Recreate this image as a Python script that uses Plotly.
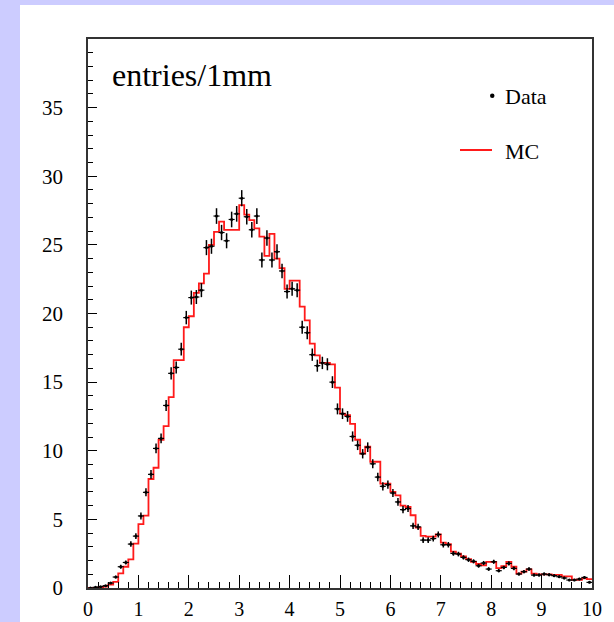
import plotly.graph_objects as go

# ---- data -------------------------------------------------------------
bin_width = 0.1
bin_edges = [round(i * bin_width, 1) for i in range(101)]
bin_centers = [round(e + bin_width / 2, 2) for e in bin_edges[:-1]]

data_values = [
    0.0, 0.05, 0.1, 0.17, 0.36, 0.8, 1.55, 1.86, 3.2, 3.78,
    5.25, 6.97, 8.28, 10.17, 10.9, 13.3, 15.64, 16.07, 17.4, 19.7,
    21.16, 21.2, 21.7, 24.8, 24.9, 27.1, 25.9, 25.3, 26.85, 27.26,
    28.4, 27.05, 26.1, 27.1, 23.9, 25.5, 23.9, 24.5, 23.1, 21.6,
    21.8, 21.7, 19.0, 18.6, 17.0, 16.2, 16.4, 16.3, 15.0, 13.05,
    12.7, 12.5, 11.04, 10.4, 9.78, 10.26, 9.05, 8.08, 7.41, 7.53,
    6.92, 6.27, 5.71, 5.79, 4.53, 4.45, 3.49, 3.49, 3.6, 3.9,
    3.15, 3.15, 2.52, 2.47, 2.23, 2.06, 1.94, 1.62, 1.82, 1.38,
    1.91, 1.26, 1.5, 1.79, 1.43, 1.02, 1.19, 1.38, 0.94, 0.94,
    1.02, 0.97, 0.9, 0.82, 0.73, 0.58, 0.58, 0.65, 0.77, 0.41,
]

data_errors = [
    0.0, 0.03, 0.04, 0.05, 0.07, 0.10, 0.14, 0.15, 0.20, 0.21,
    0.25, 0.29, 0.32, 0.35, 0.36, 0.40, 0.44, 0.44, 0.46, 0.49,
    0.51, 0.51, 0.51, 0.55, 0.55, 0.57, 0.56, 0.55, 0.57, 0.57,
    0.59, 0.57, 0.56, 0.57, 0.54, 0.56, 0.54, 0.54, 0.53, 0.51,
    0.51, 0.51, 0.48, 0.47, 0.45, 0.44, 0.45, 0.44, 0.43, 0.40,
    0.39, 0.39, 0.37, 0.35, 0.34, 0.35, 0.33, 0.31, 0.30, 0.30,
    0.29, 0.28, 0.26, 0.26, 0.23, 0.23, 0.21, 0.21, 0.21, 0.22,
    0.20, 0.20, 0.17, 0.17, 0.16, 0.16, 0.15, 0.14, 0.15, 0.13,
    0.15, 0.12, 0.13, 0.15, 0.13, 0.11, 0.12, 0.13, 0.11, 0.11,
    0.11, 0.11, 0.10, 0.10, 0.09, 0.08, 0.08, 0.09, 0.10, 0.07,
]

mc_values = [
    0.0, 0.0, 0.05, 0.1, 0.25, 0.45, 1.07, 1.55, 2.08, 3.24,
    4.65, 5.28, 7.94, 8.76, 10.8, 11.8, 13.9, 16.6, 16.6, 19.0,
    19.8, 21.5, 22.2, 22.9, 25.0, 25.95, 26.7, 26.1, 26.1, 26.1,
    27.9, 27.2, 26.8, 26.2, 25.6, 24.2, 25.8, 24.0, 23.3, 21.8,
    22.4, 22.4, 20.5, 19.5, 17.8, 16.95, 16.4, 16.4, 16.3, 14.6,
    12.7, 12.6, 11.96, 10.8, 9.8, 10.3, 9.2, 9.2, 7.6, 7.6,
    7.0, 6.75, 6.0, 5.9, 5.3, 4.4, 3.8, 3.75, 3.75, 3.9,
    3.3, 3.2, 2.65, 2.5, 2.3, 2.1, 1.9, 1.75, 1.65, 1.9,
    1.9, 1.45, 1.6, 1.9, 1.55, 1.05, 1.2, 1.35, 1.05, 1.0,
    1.0, 1.0, 0.95, 0.95, 0.85, 0.85, 0.6, 0.6, 0.7, 0.65,
]

x_tick_values = list(range(0, 11))
y_tick_values = [0, 5, 10, 15, 20, 25, 30, 35]

# ---- geometry helpers (pixel -> paper) -----------------------------------
W, H = 614, 622
L, R, T, B = 88, 22, 39, 34
PW, PH = W - L - R, H - T - B


def px(x):
    return (x - L) / PW


def py(y):
    return (H - B - y) / PH


FONT = "Liberation Serif, Times New Roman, DejaVu Serif, serif"

fig = go.Figure()

# MC histogram as a step line
fig.add_trace(go.Scatter(
    x=bin_edges,
    y=mc_values + [mc_values[-1]],
    mode="lines",
    line=dict(color="#ff1a1a", width=1.8, shape="hv"),
    name="MC",
    showlegend=False,
))

# Data points with error bars
fig.add_trace(go.Scatter(
    x=bin_centers,
    y=data_values,
    mode="markers",
    marker=dict(color="black", size=3),
    error_y=dict(type="data", array=data_errors, visible=True,
                 color="black", thickness=1.5, width=0),
    error_x=dict(type="constant", value=0.06, visible=True,
                 color="black", thickness=1.2, width=0),
    name="Data",
    showlegend=False,
))

shapes = [
    # white canvas over lavender border
    dict(type="rect", xref="paper", yref="paper",
         x0=px(20), x1=px(W + 20), y0=py(H + 20), y1=py(5),
         fillcolor="white", line=dict(width=0), layer="below"),
    # legend MC line
    dict(type="line", xref="paper", yref="paper",
         x0=px(460), x1=px(492), y0=py(150), y1=py(150),
         line=dict(color="#ff1a1a", width=2)),
    # legend data bullet
    dict(type="circle", xref="paper", yref="paper",
         x0=px(490), x1=px(494.5), y0=py(98), y1=py(93.5),
         fillcolor="black", line=dict(width=0)),
]

annotations = [
    dict(text="entries/1mm", xref="paper", yref="paper",
         x=px(110), y=py(75), xanchor="left", yanchor="middle",
         showarrow=False, font=dict(family=FONT, size=32, color="black")),
    dict(text="Data", xref="paper", yref="paper",
         x=px(503), y=py(96), xanchor="left", yanchor="middle",
         showarrow=False, font=dict(family=FONT, size=22, color="black")),
    dict(text="MC", xref="paper", yref="paper",
         x=px(503), y=py(151), xanchor="left", yanchor="middle",
         showarrow=False, font=dict(family=FONT, size=22, color="black")),
]

fig.update_layout(
    width=W, height=H,
    margin=dict(l=L, r=R, t=T, b=B, pad=0, autoexpand=False),
    paper_bgcolor="#ccccff",
    plot_bgcolor="white",
    showlegend=False,
    shapes=shapes,
    annotations=annotations,
    font=dict(family=FONT, size=20, color="black"),
)

fig.update_xaxes(
    range=[0, 10],
    tickvals=x_tick_values,
    ticks="inside", ticklen=13, tickwidth=1, tickcolor="black",
    minor=dict(dtick=0.2, ticks="inside", ticklen=6, tickwidth=1, tickcolor="black"),
    showline=True, linecolor="#333333", linewidth=1.5, mirror=True,
    showgrid=False, zeroline=False, automargin=False,
    ticklabelstandoff=2,
    tickfont=dict(family=FONT, size=20, color="black"),
)
fig.update_yaxes(
    range=[0, 40],
    tickvals=y_tick_values,
    ticks="inside", ticklen=9, tickwidth=1, tickcolor="black",
    minor=dict(dtick=1, ticks="inside", ticklen=5, tickwidth=1, tickcolor="black"),
    showline=True, linecolor="#333333", linewidth=1.5, mirror=True,
    showgrid=False, zeroline=False, automargin=False,
    ticklabelstandoff=19,
    tickfont=dict(family=FONT, size=21, color="black"),
)

fig.write_html("out.html")
